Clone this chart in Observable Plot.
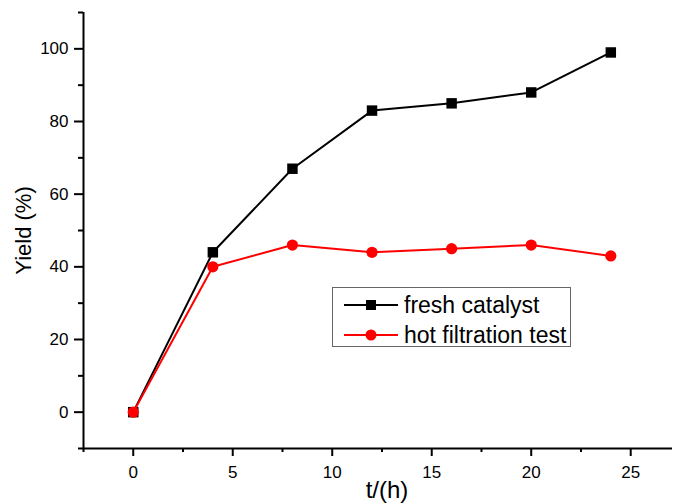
<!DOCTYPE html>
<html>
<head>
<meta charset="utf-8">
<script src="https://cdn.jsdelivr.net/npm/d3@7"></script>
<script src="https://cdn.jsdelivr.net/npm/@observablehq/plot@0.6"></script>
<style>
  html, body { margin: 0; padding: 0; background: #fff; }
  #wrap { position: relative; width: 674px; height: 504px; font-family: "Liberation Sans", Arial, sans-serif; }
  #legend { position: absolute; left: 332px; top: 287px; width: 239px; height: 60px; border: 1px solid #666; background: #fff; box-sizing: border-box; }
  .row { position: absolute; left: 0; height: 30px; display: flex; align-items: center; font-size: 23px; color: #000; }
  .row svg { margin-left: 11px; margin-right: 6px; }
</style>
</head>
<body>
<div id="wrap"></div>
<script>
const times = [0, 4, 8, 12, 16, 20, 24];
const freshCatalyst = [0, 44, 67, 83, 85, 88, 99];
const hotFiltration = [0, 40, 46, 44, 45, 46, 43];
const seriesNames = ["fresh catalyst", "hot filtration test"];
const seriesColors = ["#000000", "#ff0000"];
const xMajorTicks = [0, 5, 10, 15, 20, 25];
const xMinorTicks = [-2.5, 2.5, 7.5, 12.5, 17.5, 22.5];
const yMajorTicks = [0, 20, 40, 60, 80, 100];
const yMinorTicks = [-10, 10, 30, 50, 70, 90, 110];
const xLabel = "t/(h)";
const yLabel = "Yield (%)";

const fresh = times.map((t, i) => ({t, y: freshCatalyst[i]}));
const hot = times.map((t, i) => ({t, y: hotFiltration[i]}));

const font = "Liberation Sans, Arial, sans-serif";
const ax = {strokeWidth: 2, strokeOpacity: 1, stroke: "#000", fill: "#000", label: null};
const chart = Plot.plot({
  width: 674,
  height: 504,
  marginLeft: 83,
  marginRight: 2,
  marginTop: 12,
  marginBottom: 56,
  style: {fontFamily: font, background: "#fff", color: "#000"},
  x: {domain: [-2.5, 27.1]},
  y: {domain: [-10, 110]},
  marks: [
    Plot.axisX({...ax, ticks: xMajorTicks, tickSize: 8, tickPadding: 9, fontSize: 17}),
    Plot.axisX({...ax, ticks: xMinorTicks, tickSize: 4, tickFormat: () => ""}),
    Plot.axisY({...ax, ticks: yMajorTicks, tickSize: 9, tickPadding: 6, fontSize: 17}),
    Plot.axisY({...ax, ticks: yMinorTicks, tickSize: 5, tickFormat: () => ""}),
    Plot.ruleX([-2.5], {stroke: "#000", strokeWidth: 2}),
    Plot.ruleY([-10], {stroke: "#000", strokeWidth: 2}),
    Plot.line(fresh, {x: "t", y: "y", stroke: seriesColors[0], strokeWidth: 2}),
    Plot.dot(fresh, {x: "t", y: "y", symbol: "square", r: 5.9, fill: seriesColors[0], stroke: "none"}),
    Plot.line(hot, {x: "t", y: "y", stroke: seriesColors[1], strokeWidth: 2}),
    Plot.dot(hot, {x: "t", y: "y", symbol: "circle", r: 5.6, fill: seriesColors[1], stroke: "none"}),
    Plot.text([yLabel], {frameAnchor: "left", rotate: -90, dx: -60, fontSize: 22, textAnchor: "middle", lineAnchor: "middle", fill: "#000"}),
    Plot.text([xLabel], {frameAnchor: "bottom", dx: 9, dy: 42, fontSize: 24, textAnchor: "middle", lineAnchor: "middle", fill: "#000"})
  ]
});
const wrap = document.getElementById("wrap");
wrap.appendChild(chart);

// Legend
const legend = document.createElement("div");
legend.id = "legend";
seriesNames.forEach((name, i) => {
  const row = document.createElement("div");
  row.className = "row";
  row.style.top = (i === 0 ? 2 : 32) + "px";
  const s = d3.create("svg").attr("width", 54).attr("height", 14);
  s.append("line").attr("x1", 0).attr("x2", 54).attr("y1", 7).attr("y2", 7).attr("stroke", seriesColors[i]).attr("stroke-width", 2);
  if (i === 0) s.append("rect").attr("x", 22).attr("y", 2).attr("width", 10).attr("height", 10).attr("fill", seriesColors[i]);
  else s.append("circle").attr("cx", 27).attr("cy", 7).attr("r", 5.5).attr("fill", seriesColors[i]);
  row.appendChild(s.node());
  const span = document.createElement("span");
  span.textContent = name;
  row.appendChild(span);
  legend.appendChild(row);
});
wrap.appendChild(legend);
</script>
</body>
</html>
